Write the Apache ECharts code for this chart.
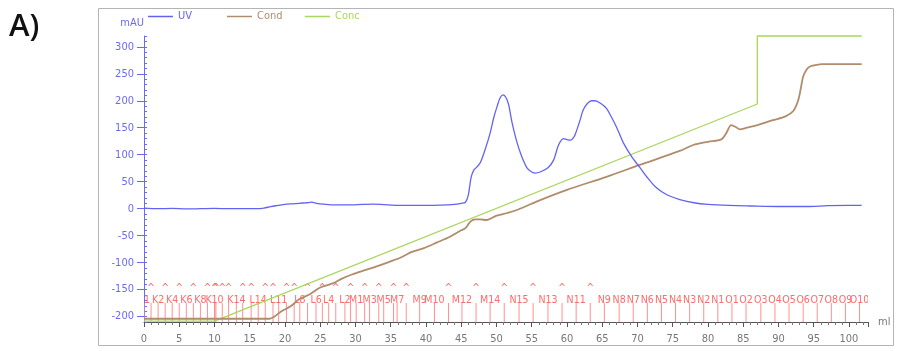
<!DOCTYPE html>
<html>
<head>
<meta charset="utf-8">
<script src="https://cdn.jsdelivr.net/npm/echarts@6/dist/echarts.min.js"></script>
<style>
  html, body { margin: 0; padding: 0; background: #fff; }
  #chart { width: 900px; height: 351px; }
</style>
</head>
<body>
<div id="chart"></div>
<script>
// UV absorbance (mAU) against elution volume (ml)
const uvMl  = [0, 2, 4, 6, 8, 10, 12, 14, 16, 17, 18, 19, 20, 21, 22, 23, 23.8, 24.5, 25.5, 27, 29, 31, 32.5, 34, 36, 38, 40, 42, 44, 45, 45.6, 46.0, 46.4, 46.8, 47.2, 47.7, 48.4, 49.1, 49.6, 50.1, 50.5, 50.9, 51.3, 51.7, 52.2, 52.8, 53.4, 54.3, 55.0, 55.5, 56.2, 57.3, 58.1, 58.8, 59.5, 60.0, 60.5, 61.0, 61.4, 61.9, 62.3, 62.9, 63.5, 64.0, 64.8, 65.6, 66.3, 67.0, 68.0, 69.2, 70.3, 71.5, 72.5, 73.5, 74.5, 76, 78, 80, 83, 86, 90, 94, 97, 100, 101.8];
const uvMau = [1, 0, 0.5, -0.5, 0, 0.5, 0, 0, 0, 1, 4, 6, 8, 9, 10, 11, 12, 10, 8.5, 7, 7, 8, 8.5, 7.5, 6, 6, 6, 6.5, 8, 10, 12, 25, 58, 72, 77, 85, 110, 140, 168, 190, 205, 211, 207, 194, 160, 128, 103, 76, 68, 66, 68, 76, 90, 118, 130, 128, 127, 133, 146, 166, 183, 195, 200, 200, 195, 186, 170, 152, 122, 96, 77, 56, 41, 31, 24, 17, 11, 8, 6, 5, 4, 4, 5.5, 6, 6];

// Conductivity trace, drawn on the mAU scale
const condMl  = [0, 17.8, 18.5, 19.5, 20.8, 22, 23.6, 25, 26.9, 28, 29.5, 31.6, 33, 34.9, 36.5, 38, 39.7, 41.5, 43.4, 45, 45.6, 46.3, 47.0, 47.7, 48.6, 50, 51.5, 53, 56.2, 60, 65.6, 70.3, 76, 77.9, 80, 81.9, 82.6, 83.3, 84, 84.5, 85.5, 87, 89.2, 91, 92.1, 92.8, 93.2, 93.5, 94, 94.4, 95.2, 96.3, 101.8];
const condVal = [-204, -204, -200, -190, -181, -168, -158, -146, -138, -130, -122, -113, -107, -98, -90, -80, -73, -63, -52, -40, -36, -24, -20, -20, -21, -13, -8, -2, 16, 35, 59, 81, 107, 118, 124, 128.5, 140, 155, 151, 147, 150, 155, 164, 171, 181, 201, 225, 245, 258, 263, 266, 268, 268];

// Gradient concentration, drawn on the mAU scale
const concMl  = [0, 10, 87, 87, 101.8];
const concVal = [-208.5, -208.5, 194, 320, 320];

// Fraction marks: labelled tubes and unlabelled ones (shown as ^)
const fracNames = ['K1', 'K2', 'K4', 'K6', 'K8', 'K10', 'K14', 'L14', 'L11', 'L8', 'L6', 'L4', 'L2', 'M1', 'M3', 'M5', 'M7', 'M9', 'M10', 'M12', 'M14', 'N15', 'N13', 'N11', 'N9', 'N8', 'N7', 'N6', 'N5', 'N4', 'N3', 'N2', 'N1', 'O1', 'O2', 'O3', 'O4', 'O5', 'O6', 'O7', 'O8', 'O9', 'O10'];
const fracNameMl = [0, 2, 4, 6, 8, 10, 13.1, 16.2, 19.1, 22.1, 24.4, 26.2, 28.5, 30.1, 32, 34, 35.9, 39.1, 41.2, 45.1, 49.1, 53.2, 57.3, 61.3, 65.3, 67.4, 69.4, 71.4, 73.4, 75.4, 77.4, 79.4, 81.4, 83.4, 85.4, 87.5, 89.5, 91.5, 93.5, 95.5, 97.5, 99.5, 101.5];
const fracCaretMl = [1, 3, 5, 7, 9, 10.05, 10.2, 11.1, 12.0, 14.0, 15.2, 17.2, 18.3, 20.2, 21.3, 23.2, 25.3, 27.2, 29.3, 31.3, 33.3, 35.4, 37.2, 43.2, 47.1, 51.1, 55.2, 59.3, 63.3];

// Axis ticks
const yMajorTicks = [-200, -150, -100, -50, 0, 50, 100, 150, 200, 250, 300];
const yMinorTicks = [];
for (let v = -210; v <= 320; v += 10) yMinorTicks.push(v);

const Y_MIN = -210, Y_MAX = 320;
const X_MIN = 0, X_MAX = 102.7;

const C_UV = '#6363f2';
const C_COND = '#b08c6c';
const C_CONC = '#a9d65c';
const C_AXIS_Y = '#6a6af5';
const C_FRAC = '#ff6a6a';
const FONT = "'Liberation Sans Narrow', 'DejaVu Sans Condensed', 'Liberation Sans', sans-serif";

const zip = (xs, ys) => xs.map((x, i) => [x, ys[i]]);

const fracData = [];
fracNameMl.forEach((x, i) => fracData.push([x, 0, i]));
fracCaretMl.forEach((x, i) => fracData.push([x, 1, i]));

// one legend block per trace, each at its own slot along the top
const legendSlots = [['UV', C_UV, 148], ['Cond', C_COND, 227], ['Conc', C_CONC, 305]];
const legends = legendSlots.map(([name, color, left]) => ({
  left: left, top: 11, padding: 0,
  icon: 'rect', itemWidth: 25, itemHeight: 1.5, itemGap: 0,
  textStyle: { fontSize: 11, fontFamily: FONT, color: color },
  data: [name]
}));

const chart = echarts.init(document.getElementById('chart'), null, { renderer: 'canvas' });

chart.setOption({
  animation: false,
  backgroundColor: '#fff',
  textStyle: { fontFamily: FONT },
  grid: { left: 144, right: 32, top: 36, bottom: 29 },
  legend: legends,
  xAxis: {
    type: 'value', min: X_MIN, max: X_MAX, interval: 5,
    name: 'ml', nameLocation: 'end', nameGap: 10,
    nameTextStyle: { color: '#777', fontSize: 11, fontFamily: FONT, padding: [8, 0, 0, 0] },
    axisLine: { show: true, onZero: false, lineStyle: { color: '#555', width: 1 } },
    axisTick: { show: true, length: 5, lineStyle: { color: '#555' } },
    minorTick: { show: true, splitNumber: 5, length: 3, lineStyle: { color: '#777' } },
    axisLabel: { color: '#777', fontSize: 11, margin: 12, fontFamily: FONT, showMaxLabel: false },
    splitLine: { show: false }
  },
  yAxis: [
    {
      type: 'value', min: Y_MIN, max: Y_MAX,
      name: 'mAU', nameLocation: 'end', nameGap: 7,
      nameTextStyle: { color: C_AXIS_Y, fontSize: 11, align: 'right', fontFamily: FONT },
      axisLine: { show: true, onZero: false, lineStyle: { color: C_AXIS_Y, width: 1 } },
      axisTick: { show: true, length: 7, customValues: yMajorTicks, lineStyle: { color: C_AXIS_Y } },
      axisLabel: { color: C_AXIS_Y, fontSize: 11, margin: 10, customValues: yMajorTicks, fontFamily: FONT },
      splitLine: { show: false }
    },
    {
      type: 'value', min: Y_MIN, max: Y_MAX, position: 'left',
      axisLine: { show: false, onZero: false },
      axisTick: { show: true, inside: true, length: 3, customValues: yMinorTicks, lineStyle: { color: C_AXIS_Y } },
      axisLabel: { show: false },
      splitLine: { show: false }
    }
  ],
  graphic: [
    {
      type: 'rect', silent: true, z: -1,
      shape: { x: 98.5, y: 8.5, width: 795, height: 337 },
      style: { fill: 'none', stroke: '#b4b4b4', lineWidth: 1 }
    },
    {
      type: 'text', left: 9, top: 12,
      style: { text: 'A)', font: "600 31px 'Open Sans', sans-serif", fill: '#111' }
    }
  ],
  series: [
    {
      name: 'Fractions', type: 'custom', clip: true, z: 1,
      data: fracData,
      encode: { x: 0, y: 1 },
      renderItem: function (params, api) {
        const x = api.value(0);
        const kind = api.value(1);
        const idx = api.value(2);
        const p = api.coord([x, Y_MIN]);
        const children = [{
          type: 'line',
          shape: { x1: p[0], y1: p[1], x2: p[0], y2: p[1] - 19 },
          style: { stroke: '#ff9090', lineWidth: 1 }
        }];
        if (kind === 0) {
          children.push({
            type: 'text',
            style: {
              text: fracNames[idx], x: p[0], y: p[1] - 22,
              align: 'center', verticalAlign: 'middle',
              fill: C_FRAC, font: '10.5px ' + FONT
            }
          });
        } else {
          children.push({
            type: 'text',
            style: {
              text: '^', x: p[0], y: p[1] - 34,
              align: 'center', verticalAlign: 'middle',
              fill: C_FRAC, font: '10px ' + FONT
            }
          });
        }
        return { type: 'group', children: children };
      }
    },
    {
      name: 'Conc', type: 'line', data: zip(concMl, concVal), clip: false,
      symbol: 'none', z: 2,
      lineStyle: { color: C_CONC, width: 1.3 }, itemStyle: { color: C_CONC }
    },
    {
      name: 'Cond', type: 'line', data: zip(condMl, condVal),
      symbol: 'none', smooth: 0.3, z: 3,
      lineStyle: { color: C_COND, width: 1.8 }, itemStyle: { color: C_COND }
    },
    {
      name: 'UV', type: 'line', data: zip(uvMl, uvMau),
      symbol: 'none', smooth: 0.3, z: 4,
      lineStyle: { color: C_UV, width: 1.3 }, itemStyle: { color: C_UV }
    }
  ]
});
</script>
</body>
</html>
